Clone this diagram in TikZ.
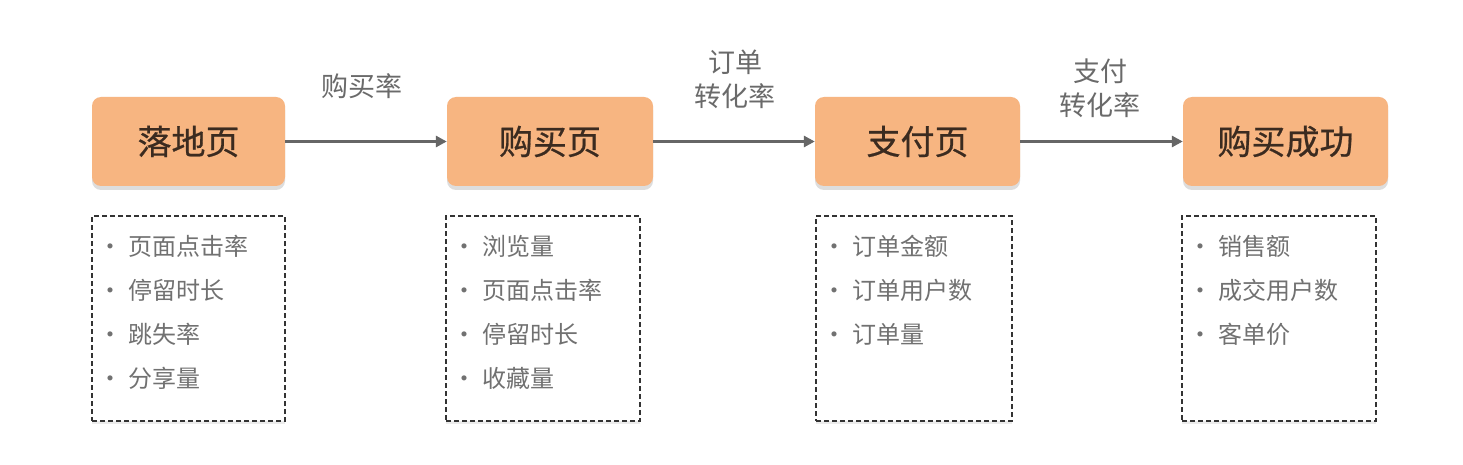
\documentclass[tikz,border=0pt]{standalone}
\usepackage{fontspec}
\setmainfont{Noto Sans CJK SC}
\newfontfamily\stagefont{Noto Sans CJK SC}[FakeBold=0.6]
\usetikzlibrary{shadows,arrows.meta}
\definecolor{boxfill}{HTML}{F7B581}
\definecolor{boxtext}{HTML}{3B2B20}
\definecolor{itemgray}{HTML}{717171}
\definecolor{arrowgray}{HTML}{666666}
\definecolor{labelgray}{HTML}{6A6A6A}
\tikzset{
  stage/.style={draw=none, fill=boxfill, rounded corners=9pt, minimum height=89pt,
    text=boxtext, font=\stagefont\fontsize{34}{40}\selectfont,
    drop shadow={shadow xshift=0pt, shadow yshift=-4pt, opacity=0.22, fill=black!60}},
  metricbox/.style={draw=black!80, dashed, line width=1.3pt, dash pattern=on 5pt off 3pt, fill=white,
    minimum height=205pt,
    drop shadow={shadow xshift=0pt, shadow yshift=-3pt, opacity=0.15}},
  item/.style={anchor=west, text=itemgray, font=\fontsize{24}{28}\selectfont},
  rate/.style={text=labelgray, font=\fontsize{27}{34}\selectfont, align=center},
  flow/.style={draw=arrowgray, line width=3pt, -{Triangle[length=11pt,width=11pt]}},
}
\begin{document}
\begin{tikzpicture}[x=1pt,y=-1pt]
\useasboundingbox (0,0) rectangle (1463,465);
\fill[white] (0,0) rectangle (1463,465);
% stage boxes
\node[stage, minimum width=193pt] (s1) at (188.5,141.5) {落地页};
\node[stage, minimum width=206pt] (s2) at (550,141.5) {购买页};
\node[stage, minimum width=205pt] (s3) at (917.5,141.5) {支付页};
\node[stage, minimum width=205pt] (s4) at (1285.5,141.5) {购买成功};
% arrows
\draw[flow] (s1.east) -- (s2.west);
\draw[flow] (s2.east) -- (s3.west);
\draw[flow] (s3.east) -- (s4.west);
% rate labels
\node[rate] (r1) at (362,86) {购买率};
\node[rate] (r2) at (735,79) {订单\\转化率};
\node[rate] (r3) at (1100,88) {支付\\转化率};
% metric boxes
\node[metricbox, minimum width=193pt] (m1) at (188.5,318.5) {};
\node[metricbox, minimum width=194pt] (m2) at (543,318.5) {};
\node[metricbox, minimum width=196pt] (m3) at (914,318.5) {};
\node[metricbox, minimum width=194pt] (m4) at (1279,318.5) {};
% items
\foreach \n/\x/\txt [count=\i] in {
  a1/95/{页面点击率}, a2/95/{停留时长}, a3/95/{跳失率}, a4/95/{分享量}} {
  \node[item] (\n) at (\x,202+44*\i) {•\hspace{6pt}\txt};
}
\foreach \n/\x/\txt [count=\i] in {
  b1/449/{浏览量}, b2/449/{页面点击率}, b3/449/{停留时长}, b4/449/{收藏量}} {
  \node[item] (\n) at (\x,202+44*\i) {•\hspace{6pt}\txt};
}
\foreach \n/\x/\txt [count=\i] in {
  c1/819/{订单金额}, c2/819/{订单用户数}, c3/819/{订单量}} {
  \node[item] (\n) at (\x,202+44*\i) {•\hspace{6pt}\txt};
}
\foreach \n/\x/\txt [count=\i] in {
  d1/1185/{销售额}, d2/1185/{成交用户数}, d3/1185/{客单价}} {
  \node[item] (\n) at (\x,202+44*\i) {•\hspace{6pt}\txt};
}
\end{tikzpicture}
\end{document}
